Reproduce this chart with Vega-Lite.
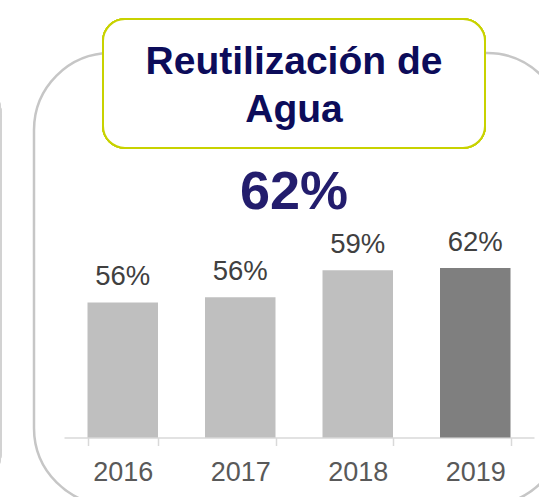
{
  "$schema": "https://vega.github.io/schema/vega-lite/v6.json",
  "autosize": {"type": "none"},
  "width": 530,
  "height": 452,
  "padding": {"left": 34, "top": 53, "right": -25, "bottom": -8},
  "background": "white",
  "title": {
    "text": ["Reutilización de", "Agua"],
    "subtitle": "62%",
    "anchor": "middle",
    "frame": "group",
    "dx": -5,
    "offset": -202,
    "font": "Liberation Sans",
    "fontSize": 39,
    "fontWeight": "bold",
    "color": "#0c0c5a",
    "lineHeight": 48,
    "subtitleFont": "Liberation Sans",
    "subtitleFontSize": 54,
    "subtitleFontWeight": "bold",
    "subtitleColor": "#231d6d",
    "subtitlePadding": 36
  },
  "data": {
    "values": [
      {"anio": "2016", "valor": 55.5, "etiqueta": "56%"},
      {"anio": "2017", "valor": 56.5, "etiqueta": "56%"},
      {"anio": "2018", "valor": 61.6, "etiqueta": "59%"},
      {"anio": "2019", "valor": 62.0, "etiqueta": "62%"}
    ]
  },
  "layer": [
    {
      "encoding": {
        "x": {"datum": 0, "type": "quantitative", "scale": {"domain": [0, 1], "range": [69, 451]}, "axis": null},
        "y": {"datum": 100, "type": "quantitative", "scale": {"domain": [30, 102.6], "range": [384.5, 0], "zero": false, "nice": false}, "axis": null}
      },
      "layer": [
        {
          "mark": {"type": "rect", "fill": null, "stroke": "#d2d2d2", "strokeWidth": 2, "cornerRadius": 60},
          "encoding": {
            "x": {"datum": -1, "type": "quantitative"},
            "x2": {"datum": -0.267},
            "y": {"datum": 101.66, "type": "quantitative"},
            "y2": {"datum": 16.69}
          }
        },
        {
          "mark": {"type": "rect", "fill": "white", "stroke": "#c8d200", "strokeWidth": 2, "cornerRadius": 22},
          "encoding": {
            "x": {"datum": 0, "type": "quantitative"},
            "x2": {"datum": 1},
            "y": {"datum": 109.0, "type": "quantitative"},
            "y2": {"datum": 84.66}
          }
        }
      ]
    },
    {
      "encoding": {
        "x": {
          "field": "anio",
          "type": "ordinal",
          "scale": {"range": [30, 500], "paddingInner": 0.4, "paddingOuter": 0.2},
          "axis": {
            "title": null,
            "offset": -67.5,
            "domainColor": "#d9d9d9",
            "domainWidth": 1.5,
            "tickColor": "#d9d9d9",
            "tickWidth": 1.5,
            "tickSize": 8,
            "tickBand": "extent",
            "labelAngle": 0,
            "labelFont": "Liberation Sans",
            "labelFontSize": 27,
            "labelColor": "#595959",
            "labelBaseline": "alphabetic",
            "labelPadding": 34.5
          }
        },
        "y": {"field": "valor", "type": "quantitative"}
      },
      "layer": [
        {
          "mark": {"type": "bar"},
          "encoding": {
            "y2": {"datum": 30},
            "color": {
              "field": "anio",
              "type": "nominal",
              "scale": {"domain": ["2016", "2017", "2018", "2019"], "range": ["#bfbfbf", "#bfbfbf", "#bfbfbf", "#7f7f7f"]},
              "legend": null
            }
          }
        },
        {
          "mark": {"type": "text", "baseline": "alphabetic", "dy": -17, "font": "Liberation Sans", "fontSize": 27.5, "color": "#404040"},
          "encoding": {
            "text": {"field": "etiqueta"}
          }
        }
      ]
    }
  ],
  "resolve": {"scale": {"x": "independent"}, "axis": {"x": "independent"}},
  "config": {
    "view": {"stroke": "#c6c6c6", "strokeWidth": 2.5, "cornerRadius": 77}
  }
}
